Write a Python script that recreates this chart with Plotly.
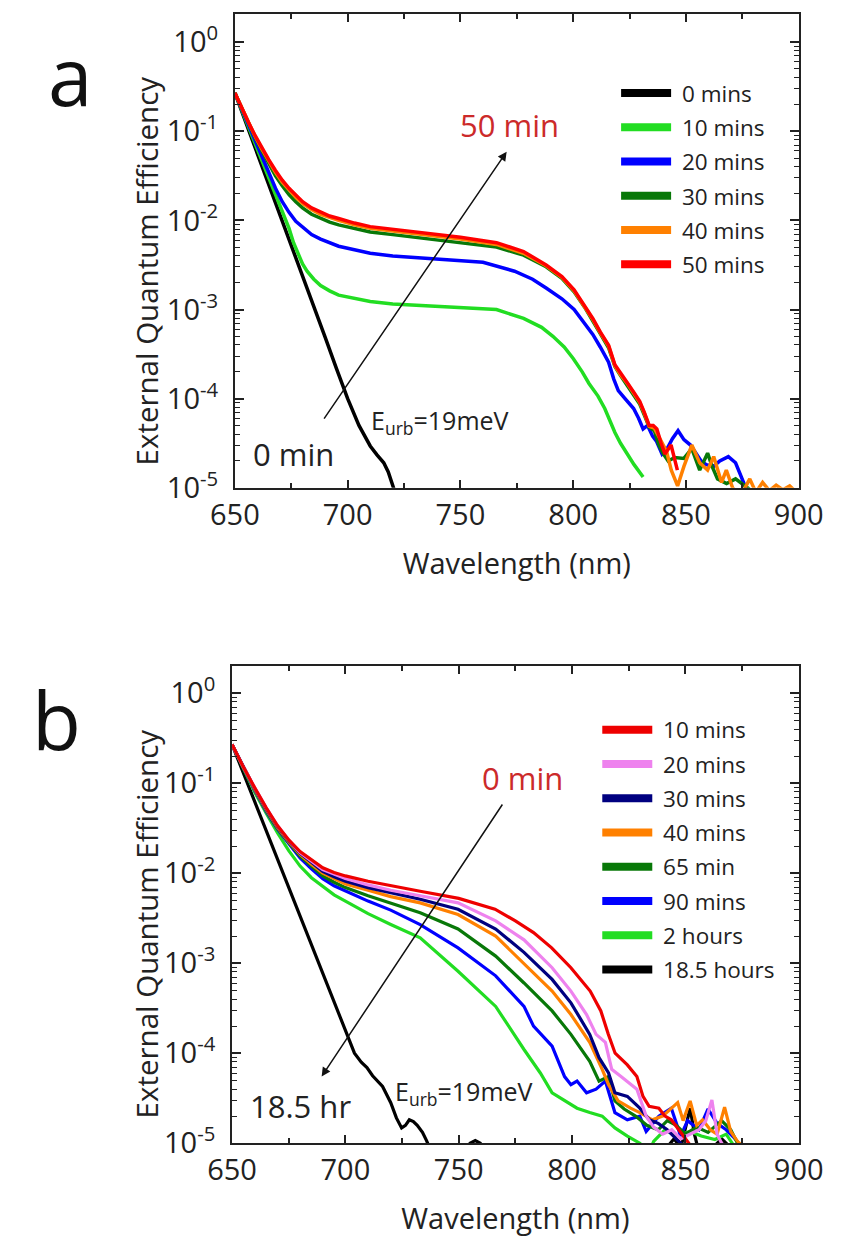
import plotly.graph_objects as go

# ---------------- DATA ----------------
# Panel a (degradation series, EQE vs wavelength)
a_wl_0 = [650, 655, 660, 665, 670, 675, 680, 685, 690, 695, 700, 705, 710, 713, 716, 718, 719.5, 721]
a_eqe_0 = [0.269, 0.123, 5.50e-2, 2.51e-2, 1.15e-2, 5.13e-3, 2.34e-3, 1.07e-3, 4.90e-4, 2.19e-4, 1.00e-4,
           5.01e-5, 2.95e-5, 2.34e-5, 1.91e-5, 1.51e-5, 1.20e-5, 8.9e-6]

a_wl_10 = [650, 653, 656, 659, 662, 665, 668, 670, 672, 674, 676, 678, 680, 682, 685, 688, 692, 696, 703, 710,
           720, 736, 750, 766, 778, 786, 791, 796, 800, 804, 807, 811, 814, 816, 818.5, 821, 824, 827, 831]
a_eqe_10 = [0.269, 0.174, 0.112, 7.24e-2, 4.68e-2, 3.02e-2, 1.95e-2, 1.48e-2, 1.10e-2, 8.13e-3, 5.62e-3,
            4.17e-3, 3.24e-3, 2.69e-3, 2.19e-3, 1.86e-3, 1.62e-3, 1.45e-3, 1.35e-3, 1.23e-3, 1.15e-3, 1.10e-3,
            1.05e-3, 1.00e-3, 7.94e-4, 6.31e-4, 5.01e-4, 3.80e-4, 2.82e-4, 2.00e-4, 1.48e-4, 1.07e-4, 7.76e-5,
            5.75e-5, 4.17e-5, 3.16e-5, 2.40e-5, 1.82e-5, 1.32e-5]

a_wl_20 = [650, 653, 656, 659, 662, 665, 668, 671, 674, 677, 680, 684, 688, 692, 696, 703, 710, 720, 736, 750,
           760, 774, 782, 788, 795, 800.4, 805, 808.7, 812, 815.7, 818, 820, 823, 826.8, 829, 831, 833, 835.2,
           837, 839.4, 842.1, 844, 846.5, 849.1, 852, 856.7, 859, 862.3, 865, 868.8, 872, 875.5, 877.5]
a_eqe_20 = [0.269, 0.178, 0.117, 7.76e-2, 5.13e-2, 3.39e-2, 2.29e-2, 1.62e-2, 1.23e-2, 9.77e-3, 8.32e-3,
            6.92e-3, 6.17e-3, 5.62e-3, 5.13e-3, 4.68e-3, 4.27e-3, 3.98e-3, 3.72e-3, 3.55e-3, 3.39e-3, 2.69e-3,
            2.19e-3, 1.74e-3, 1.32e-3, 1.00e-3, 7.08e-4, 5.25e-4, 3.80e-4, 2.57e-4, 1.66e-4, 1.23e-4, 1.00e-4,
            7.76e-5, 6.03e-5, 4.57e-5, 5.01e-5, 3.80e-5, 3.31e-5, 2.40e-5, 2.88e-5, 3.55e-5, 4.37e-5, 3.47e-5,
            3.02e-5, 2.00e-5, 1.82e-5, 1.74e-5, 2.00e-5, 2.24e-5, 1.91e-5, 1.20e-5, 8.7e-6]

a_wl_30 = [650, 653, 656, 659, 662, 665, 668, 671, 674, 677, 680, 684, 688, 692, 696, 703, 710, 720, 736, 750,
           766, 778, 788, 795, 800.4, 805, 808.7, 812, 815.7, 818.5, 821, 824, 827, 829.5, 831.5, 833.7, 836,
           838, 840, 842.1, 845, 849.1, 852.6, 856.1, 859.6, 861.6, 864, 868, 872, 876, 880]
a_eqe_30 = [0.269, 0.182, 0.123, 8.51e-2, 6.03e-2, 4.27e-2, 3.16e-2, 2.45e-2, 1.95e-2, 1.62e-2, 1.38e-2,
            1.17e-2, 1.05e-2, 9.55e-3, 8.91e-3, 8.13e-3, 7.41e-3, 6.92e-3, 6.17e-3, 5.62e-3, 5.01e-3, 4.07e-3,
            3.02e-3, 2.24e-3, 1.58e-3, 1.07e-3, 7.59e-4, 5.37e-4, 3.72e-4, 2.29e-4, 1.82e-4, 1.41e-4, 1.12e-4,
            8.71e-5, 6.61e-5, 4.79e-5, 4.37e-5, 3.02e-5, 2.40e-5, 2.00e-5, 2.19e-5, 2.14e-5, 2.75e-5, 1.58e-5,
            2.45e-5, 1.74e-5, 1.26e-5, 1.12e-5, 1.26e-5, 1.07e-5, 8.9e-6]

a_wl_40 = [650, 653, 656, 659, 662, 665, 668, 671, 674, 677, 680, 684, 688, 692, 696, 703, 710, 720, 736, 750,
           766, 778, 788, 795, 800.4, 805, 808.7, 812, 815.7, 818.5, 821, 824, 827, 829.5, 831.5, 833.7, 836,
           838.5, 841.4, 843.5, 846.3, 849.1, 852.6, 856.1, 859.6, 862.3, 865.8, 867.9, 870.7, 874, 878.3, 881,
           884, 887, 890, 893, 896, 899]
a_eqe_40 = [0.269, 0.182, 0.126, 8.71e-2, 6.31e-2, 4.57e-2, 3.47e-2, 2.69e-2, 2.19e-2, 1.82e-2, 1.55e-2,
            1.32e-2, 1.17e-2, 1.07e-2, 1.00e-2, 8.91e-3, 8.13e-3, 7.59e-3, 6.76e-3, 6.17e-3, 5.37e-3, 4.27e-3,
            3.09e-3, 2.29e-3, 1.62e-3, 1.10e-3, 7.76e-4, 5.50e-4, 3.89e-4, 2.34e-4, 1.86e-4, 1.48e-4, 1.15e-4,
            9.12e-5, 6.92e-5, 4.90e-5, 4.68e-5, 3.55e-5, 2.57e-5, 1.58e-5, 1.05e-5, 1.74e-5, 3.02e-5, 1.91e-5,
            1.58e-5, 2.24e-5, 1.15e-5, 1.58e-5, 1.00e-5, 7.9e-6, 1.26e-5, 8.9e-6, 1.15e-5, 9.3e-6, 1.07e-5,
            9.5e-6, 1.05e-5, 8.9e-6]

a_wl_50 = [650, 653, 656, 659, 662, 665, 668, 671, 674, 677, 680, 684, 688, 692, 696, 703, 710, 720, 736, 750,
           766, 778, 788, 795, 800.4, 805, 808.7, 812, 815.7, 818.5, 821, 824, 827, 829.5, 831.5, 833.7, 835.5,
           837.1, 839, 840.7, 843.4, 846.2]
a_eqe_50 = [0.269, 0.182, 0.126, 8.91e-2, 6.46e-2, 4.79e-2, 3.63e-2, 2.82e-2, 2.29e-2, 1.91e-2, 1.62e-2,
            1.38e-2, 1.23e-2, 1.12e-2, 1.05e-2, 9.33e-3, 8.51e-3, 7.94e-3, 7.08e-3, 6.46e-3, 5.62e-3, 4.47e-3,
            3.16e-3, 2.34e-3, 1.66e-3, 1.12e-3, 7.94e-4, 5.62e-4, 3.98e-4, 2.40e-4, 1.91e-4, 1.51e-4, 1.17e-4,
            9.33e-5, 7.08e-5, 5.01e-5, 5.01e-5, 4.57e-5, 3.16e-5, 2.40e-5, 3.02e-5, 1.58e-5]

# Panel b (recovery series)
b_wl_10 = [650, 655, 660, 665, 670, 675, 680, 685, 690, 695, 700, 710, 720, 733, 750, 766, 775, 783, 791, 799.5,
           808, 812.7, 816, 819, 824.4, 828.6, 831.3, 834, 838.3, 841, 843.8, 847, 850, 853]
b_eqe_10 = [0.269, 0.151, 8.91e-2, 5.37e-2, 3.39e-2, 2.34e-2, 1.74e-2, 1.41e-2, 1.15e-2, 1.02e-2, 9.33e-3,
            8.13e-3, 7.24e-3, 6.31e-3, 5.25e-3, 3.98e-3, 2.95e-3, 2.19e-3, 1.48e-3, 8.91e-4, 4.90e-4, 2.95e-4,
            1.62e-4, 1.00e-4, 7.41e-5, 5.50e-5, 3.31e-5, 2.57e-5, 2.45e-5, 2.00e-5, 1.82e-5, 1.41e-5, 1.12e-5, 8.9e-6]

b_wl_20 = [650, 655, 660, 665, 670, 675, 680, 685, 690, 695, 700, 710, 720, 733, 749.7, 766.3, 778.8, 791.2, 799.5,
           806.4, 810.6, 814.7, 817.5, 821.6, 828.6, 832.7, 836, 840, 844, 848, 852, 856, 859, 861.7, 864, 867]
b_eqe_20 = [0.269, 0.151, 8.91e-2, 5.37e-2, 3.39e-2, 2.34e-2, 1.70e-2, 1.35e-2, 1.10e-2, 9.77e-3, 8.71e-3,
            7.41e-3, 6.46e-3, 5.62e-3, 4.68e-3, 2.95e-3, 1.82e-3, 8.91e-4, 4.90e-4, 2.69e-4, 1.62e-4, 1.32e-4,
            6.61e-5, 5.50e-5, 3.98e-5, 2.00e-5, 1.51e-5, 1.26e-5, 1.41e-5, 1.12e-5, 1.26e-5, 1.41e-5, 1.78e-5,
            3.02e-5, 1.26e-5, 8.9e-6]

b_wl_30 = [650, 655, 660, 665, 670, 675, 680, 685, 690, 695, 700, 710, 720, 733, 749.7, 766.3, 778.8, 791.2, 799.5,
           807.8, 811.9, 816.1, 818.9, 824.4, 829.9, 834.1, 838, 842, 846, 850]
b_eqe_30 = [0.269, 0.151, 8.71e-2, 5.25e-2, 3.31e-2, 2.29e-2, 1.66e-2, 1.32e-2, 1.05e-2, 9.12e-3, 8.13e-3,
            6.92e-3, 6.03e-3, 5.13e-3, 3.98e-3, 2.40e-3, 1.32e-3, 6.61e-4, 3.63e-4, 1.62e-4, 8.91e-5, 6.03e-5,
            3.63e-5, 3.31e-5, 2.45e-5, 1.82e-5, 1.66e-5, 1.41e-5, 1.12e-5, 8.9e-6]

b_wl_40 = [650, 655, 660, 665, 670, 675, 680, 685, 690, 695, 700, 710, 720, 733, 749.7, 766.3, 778.8, 791.2, 799.5,
           807.8, 813.3, 816.1, 820.3, 825.8, 829.9, 835.4, 840, 846.6, 849, 852.1, 855, 857.6, 861, 864, 867.3,
           870, 873, 876]
b_eqe_40 = [0.269, 0.148, 8.51e-2, 5.13e-2, 3.24e-2, 2.24e-2, 1.62e-2, 1.26e-2, 1.00e-2, 8.71e-3, 7.59e-3,
            6.46e-3, 5.50e-3, 4.68e-3, 3.47e-3, 2.00e-3, 1.00e-3, 4.90e-4, 2.69e-4, 1.32e-4, 6.61e-5, 4.47e-5,
            2.95e-5, 2.45e-5, 2.19e-5, 1.82e-5, 2.00e-5, 2.82e-5, 1.78e-5, 2.95e-5, 1.58e-5, 1.82e-5, 1.41e-5,
            1.26e-5, 2.51e-5, 1.35e-5, 1.05e-5, 8.9e-6]

b_wl_65 = [650, 655, 660, 665, 670, 675, 680, 685, 690, 695, 700, 710, 720, 733, 749.7, 766.3, 778.8, 791.2, 799.5,
           807.8, 811.9, 816.1, 818.9, 823, 828, 833, 838, 842, 846, 850, 855, 860, 866, 870, 874]
b_eqe_65 = [0.269, 0.148, 8.51e-2, 5.01e-2, 3.16e-2, 2.19e-2, 1.55e-2, 1.20e-2, 9.33e-3, 7.94e-3, 6.92e-3,
            5.62e-3, 4.68e-3, 3.63e-3, 2.40e-3, 1.20e-3, 6.03e-4, 2.95e-4, 1.62e-4, 8.13e-5, 4.90e-5, 5.50e-5,
            2.95e-5, 2.40e-5, 2.00e-5, 1.58e-5, 1.41e-5, 1.78e-5, 1.58e-5, 1.26e-5, 1.51e-5, 1.32e-5, 1.78e-5,
            1.41e-5, 8.9e-6]

b_wl_90 = [650, 655, 660, 665, 670, 675, 680, 685, 690, 695, 700, 710, 720, 733, 749.7, 766.3, 778.8, 783, 791.2,
           796.7, 799.5, 802.2, 806.4, 810.6, 814.7, 818.9, 824.4, 829.9, 832.7, 838.3, 843.8, 847.9, 851, 856,
           860, 864, 868, 872, 875]
b_eqe_90 = [0.269, 0.148, 8.32e-2, 4.90e-2, 3.09e-2, 2.14e-2, 1.48e-2, 1.12e-2, 8.71e-3, 7.24e-3, 6.31e-3,
            4.90e-3, 3.89e-3, 2.69e-3, 1.48e-3, 7.24e-4, 3.31e-4, 2.00e-4, 1.20e-4, 5.50e-5, 4.47e-5, 4.90e-5,
            3.63e-5, 3.98e-5, 4.90e-5, 2.19e-5, 1.82e-5, 2.00e-5, 1.35e-5, 2.00e-5, 2.45e-5, 1.20e-5, 1.78e-5,
            1.41e-5, 2.40e-5, 1.66e-5, 1.41e-5, 1.12e-5, 8.9e-6]

b_wl_120 = [650, 655, 660, 665, 670, 675, 680, 685, 690, 695, 700, 710, 720, 733, 749.7, 766.3, 778.8, 786, 791.2,
            796.7, 802.2, 807.8, 813.3, 818.9, 824.4, 829.9, 834, 836, 841, 846, 852, 857, 863, 868, 872]
b_eqe_120 = [0.269, 0.145, 7.94e-2, 4.68e-2, 2.82e-2, 1.78e-2, 1.20e-2, 8.91e-3, 7.08e-3, 5.75e-3, 4.90e-3,
             3.55e-3, 2.69e-3, 1.91e-3, 8.13e-4, 3.31e-4, 1.10e-4, 6.03e-5, 3.63e-5, 2.95e-5, 2.45e-5, 2.19e-5,
             2.00e-5, 1.48e-5, 1.20e-5, 1.00e-5, 7.9e-6, 1.05e-5, 1.41e-5, 1.20e-5, 1.35e-5, 1.20e-5, 1.10e-5,
             1.26e-5, 8.9e-6]

b_wl_1110 = [650, 655, 660, 665, 670, 675, 680, 685, 690, 695, 700, 704, 707, 709.5, 712, 716.4, 720, 722.5, 724.8,
             726.5, 728.2, 730, 731.7, 734, 735.8, 738, 745, 752, 755, 757.3, 759.5, 762, 840, 845, 848, 850, 852.1,
             854, 856, 860, 866, 870]
b_eqe_1110 = [0.269, 0.129, 6.17e-2, 3.02e-2, 1.45e-2, 6.92e-3, 3.31e-3, 1.58e-3, 7.59e-4, 3.72e-4, 1.78e-4,
              1.00e-4, 7.94e-5, 6.92e-5, 5.62e-5, 4.27e-5, 2.82e-5, 1.91e-5, 1.48e-5, 1.58e-5, 1.82e-5, 1.74e-5,
              1.58e-5, 1.32e-5, 1.07e-5, 7.9e-6, 6.3e-6, 7.9e-6, 1.00e-5, 1.07e-5, 1.00e-5, 7.9e-6, 7.9e-6,
              1.12e-5, 8.9e-6, 1.41e-5, 2.45e-5, 1.26e-5, 7.9e-6, 7.9e-6, 1.12e-5, 8.9e-6]

# series names / colours
a_names = ["0 mins", "10 mins", "20 mins", "30 mins", "40 mins", "50 mins"]
a_colors = ["#000000", "#22dd22", "#0000ff", "#087808", "#ff8000", "#ff0000"]
b_names = ["10 mins", "20 mins", "30 mins", "40 mins", "65 min", "90 mins", "2 hours", "18.5 hours"]
b_colors = ["#ee0000", "#ee82ee", "#000080", "#ff8000", "#087808", "#0000ff", "#22dd22", "#000000"]

x_tickvals = [650, 700, 750, 800, 850, 900]
y_tickvals = [1, 0.1, 0.01, 0.001, 0.0001, 0.00001]
y_ticktext = ["10<sup>0</sup>", "10<sup>-1</sup>", "10<sup>-2</sup>", "10<sup>-3</sup>",
              "10<sup>-4</sup>", "10<sup>-5</sup>"]

# ---------------- FIGURE ----------------
W, H = 851, 1243
FONT = "Open Sans"
TXT = "#222222"
fig = go.Figure()

a_series = [(a_wl_0, a_eqe_0), (a_wl_10, a_eqe_10), (a_wl_20, a_eqe_20),
            (a_wl_30, a_eqe_30), (a_wl_40, a_eqe_40), (a_wl_50, a_eqe_50)]
for (wl, eqe), name, col in zip(a_series, a_names, a_colors):
    fig.add_trace(go.Scatter(x=wl, y=eqe, mode="lines", name=name, showlegend=False,
                             line=dict(color=col, width=3.5), xaxis="x", yaxis="y"))

b_series = [(b_wl_10, b_eqe_10), (b_wl_20, b_eqe_20), (b_wl_30, b_eqe_30), (b_wl_40, b_eqe_40),
            (b_wl_65, b_eqe_65), (b_wl_90, b_eqe_90), (b_wl_120, b_eqe_120), (b_wl_1110, b_eqe_1110)]
b_draw_order = [7, 6, 5, 4, 3, 2, 1, 0]
for i in b_draw_order:
    wl, eqe = b_series[i]
    fig.add_trace(go.Scatter(x=wl, y=eqe, mode="lines", name=b_names[i], showlegend=False,
                             line=dict(color=b_colors[i], width=3.2), xaxis="x2", yaxis="y2"))

# legend entries (thick line samples); a non-breaking space widens the gap to the text
for k, (name, col) in enumerate(zip(a_names, a_colors)):
    fig.add_trace(go.Scatter(x=[None], y=[None], mode="lines", name="&nbsp;" + name, legend="legend",
                             legendgroup="a%d" % k, line=dict(color=col, width=8), xaxis="x", yaxis="y"))
for k, (name, col) in enumerate(zip(b_names, b_colors)):
    fig.add_trace(go.Scatter(x=[None], y=[None], mode="lines", name="&nbsp;" + name, legend="legend2",
                             legendgroup="b%d" % k, line=dict(color=col, width=8), xaxis="x2", yaxis="y2"))


def px_x(p):
    return p / W


def px_y(p):
    return 1 - p / H


common_x = dict(range=[650, 900], tickmode="array", tickvals=x_tickvals, ticks="inside", ticklen=8,
                tickwidth=1.5, tickcolor=TXT, showline=True, linewidth=2, linecolor=TXT, mirror="ticks",
                showgrid=False, zeroline=False, tickfont=dict(family=FONT, size=29, color=TXT),
                minor=dict(dtick=25, ticks="inside", ticklen=5, tickwidth=1.5, tickcolor=TXT, showgrid=False),
                title=dict(text="Wavelength (nm)", font=dict(family=FONT, size=29, color=TXT), standoff=22))
minor_y = [m * 10.0 ** e for e in range(-5, 0) for m in range(2, 10)]
common_y = dict(type="log", tickmode="array", tickvals=y_tickvals, ticktext=y_ticktext, ticks="inside",
                ticklen=9, tickwidth=1.5, tickcolor=TXT, showline=True, linewidth=2, linecolor=TXT,
                mirror="ticks", showgrid=False, zeroline=False, tickfont=dict(family=FONT, size=29, color=TXT),
                ticklabelstandoff=9,
                minor=dict(tickvals=minor_y, ticks="inside", ticklen=5, tickwidth=1.2, tickcolor=TXT,
                           showgrid=False))

fig.update_layout(
    width=W, height=H, autosize=False,
    margin=dict(l=0, r=0, t=0, b=0),
    paper_bgcolor="white", plot_bgcolor="white",
    font=dict(family=FONT, color=TXT),
    xaxis=dict(common_x, domain=[px_x(223), px_x(822)], anchor="y"),
    yaxis=dict(common_y, domain=[px_y(495), px_y(14)], range=[-5, 0.317], anchor="x"),
    xaxis2=dict(common_x, domain=[px_x(220), px_x(822)], anchor="y2"),
    yaxis2=dict(common_y, domain=[px_y(1160), px_y(676)], range=[-5, 0.30], anchor="x2"),
    legend=dict(x=px_x(628), y=px_y(73), xanchor="left", yanchor="top", bgcolor="rgba(0,0,0,0)",
                font=dict(family=FONT, size=22.5, color=TXT), tracegroupgap=2, itemwidth=50),
    legend2=dict(x=px_x(608), y=px_y(719), xanchor="left", yanchor="top", bgcolor="rgba(0,0,0,0)",
                 font=dict(family=FONT, size=22.5, color=TXT), tracegroupgap=2, itemwidth=50),
)

# y-axis titles (placed like the reference, slightly below the axis centre)
fig.add_annotation(x=px_x(129), y=px_y(275), xref="paper", yref="paper", text="External Quantum Efficiency",
                   textangle=-90, showarrow=False, xanchor="center", yanchor="middle",
                   font=dict(family=FONT, size=29.5, color=TXT))
fig.add_annotation(x=px_x(128.5), y=px_y(937), xref="paper", yref="paper", text="External Quantum Efficiency",
                   textangle=-90, showarrow=False, xanchor="center", yanchor="middle",
                   font=dict(family=FONT, size=29.5, color=TXT))

# panel labels
fig.add_annotation(x=px_x(48), y=px_y(76), xref="paper", yref="paper", text="a", showarrow=False,
                   font=dict(family=FONT, size=80, color="#111111"), xanchor="center", yanchor="middle")
fig.add_annotation(x=px_x(33), y=px_y(729), xref="paper", yref="paper", text="b", showarrow=False,
                   font=dict(family=FONT, size=80, color="#111111"), xanchor="center", yanchor="middle")

# arrows (annotation coordinates on log axes are given in log10 units)
fig.add_annotation(x=770.5, y=-1.23, ax=689.1, ay=-4.24, xref="x", yref="y", axref="x", ayref="y",
                   text="", showarrow=True, arrowhead=2, arrowsize=1.2, arrowwidth=1.5, arrowcolor="#111111")
fig.add_annotation(x=689.5, y=-4.26, ax=769.7, ay=-1.22, xref="x2", yref="y2", axref="x2", ayref="y2",
                   text="", showarrow=True, arrowhead=2, arrowsize=1.2, arrowwidth=1.5, arrowcolor="#111111")

# text labels
fig.add_annotation(x=771.9, y=-0.93, xref="x", yref="y", text="50 min", showarrow=False,
                   font=dict(family=FONT, size=31, color="#cc2a2a"))
fig.add_annotation(x=675.9, y=-4.62, xref="x", yref="y", text="0 min", showarrow=False,
                   font=dict(family=FONT, size=31, color=TXT))
fig.add_annotation(x=741, y=-4.26, xref="x", yref="y", text="E<sub>urb</sub>=19meV", showarrow=False,
                   font=dict(family=FONT, size=25, color=TXT))
fig.add_annotation(x=778.3, y=-0.94, xref="x2", yref="y2", text="0 min", showarrow=False,
                   font=dict(family=FONT, size=31, color="#cc2a2a"))
fig.add_annotation(x=680.4, y=-4.59, xref="x2", yref="y2", text="18.5 hr", showarrow=False,
                   font=dict(family=FONT, size=31, color=TXT))
fig.add_annotation(x=752.4, y=-4.44, xref="x2", yref="y2", text="E<sub>urb</sub>=19meV", showarrow=False,
                   font=dict(family=FONT, size=25, color=TXT))

fig.write_html("out.html")
